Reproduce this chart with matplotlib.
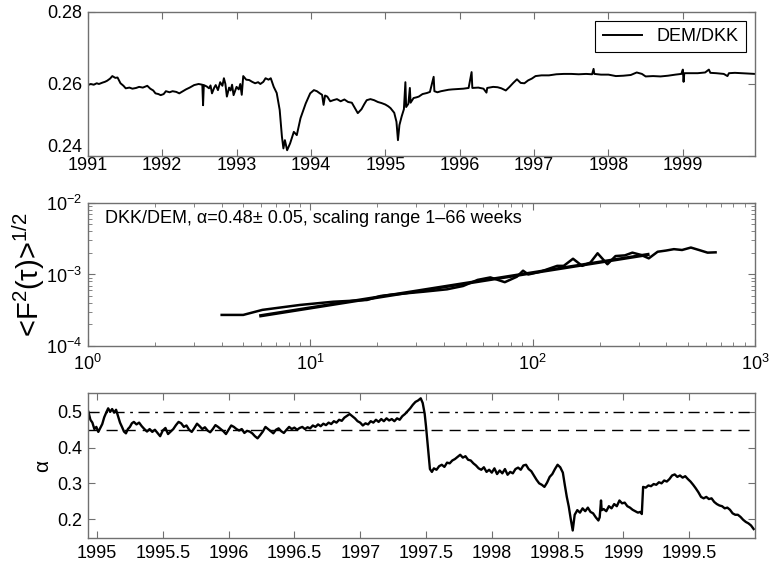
import matplotlib
matplotlib.use("Agg")
import matplotlib.pyplot as plt
from matplotlib.ticker import FormatStrFormatter

plt.rcParams['font.family'] = ['Liberation Sans', 'DejaVu Sans']
plt.rcParams['mathtext.fontset'] = 'custom'
plt.rcParams['mathtext.rm'] = 'Liberation Sans'
plt.rcParams['mathtext.it'] = 'Liberation Sans'

# --- top panel: DEM/DKK exchange rate ---
fx_year = [1991.00, 1991.04, 1991.08, 1991.12, 1991.15, 1991.20, 1991.23, 1991.26, 1991.30, 1991.33,
           1991.37, 1991.40, 1991.44, 1991.48, 1991.51, 1991.56, 1991.60, 1991.65, 1991.69, 1991.74,
           1991.80, 1991.84, 1991.88, 1991.91, 1991.95, 1991.98, 1992.02, 1992.05, 1992.10, 1992.14,
           1992.19, 1992.23, 1992.28, 1992.32, 1992.37, 1992.43, 1992.49, 1992.54, 1992.55, 1992.56,
           1992.60, 1992.63, 1992.65, 1992.67, 1992.70, 1992.72, 1992.75, 1992.78, 1992.81, 1992.83,
           1992.85, 1992.87, 1992.90, 1992.92, 1992.94, 1992.96, 1993.00, 1993.03, 1993.05, 1993.07,
           1993.09, 1993.13, 1993.17, 1993.21, 1993.25, 1993.29, 1993.32, 1993.36, 1993.39, 1993.43,
           1993.46, 1993.50, 1993.54, 1993.58, 1993.61, 1993.63, 1993.65, 1993.68, 1993.72, 1993.77,
           1993.81, 1993.86, 1993.93, 1993.99, 1994.04, 1994.08, 1994.12, 1994.15, 1994.17, 1994.19,
           1994.22, 1994.26, 1994.30, 1994.35, 1994.40, 1994.45, 1994.50, 1994.55, 1994.60, 1994.63,
           1994.68, 1994.72, 1994.75, 1994.80, 1994.85, 1994.90, 1994.95, 1995.00, 1995.04, 1995.07,
           1995.12, 1995.15, 1995.17, 1995.19, 1995.22, 1995.25, 1995.27, 1995.28, 1995.31, 1995.33,
           1995.34, 1995.38, 1995.42, 1995.45, 1995.50, 1995.56, 1995.60, 1995.65, 1995.66, 1995.70,
           1995.75, 1995.80, 1995.85, 1995.90, 1995.97, 1996.05, 1996.12, 1996.16, 1996.17, 1996.25,
           1996.32, 1996.36, 1996.37, 1996.45, 1996.51, 1996.56, 1996.62, 1996.67, 1996.72, 1996.77,
           1996.82, 1996.87, 1996.92, 1996.97, 1997.02, 1997.10, 1997.20, 1997.30, 1997.40, 1997.50,
           1997.60, 1997.70, 1997.78, 1997.80, 1997.81, 1997.90, 1998.00, 1998.10, 1998.20, 1998.30,
           1998.38, 1998.45, 1998.50, 1998.60, 1998.70, 1998.80, 1998.90, 1998.98, 1999.00, 1999.01,
           1999.02, 1999.10, 1999.20, 1999.30, 1999.35, 1999.37, 1999.45, 1999.55, 1999.60, 1999.62,
           1999.70, 1999.80, 1999.90, 1999.97]
fx_rate = [0.2597, 0.2600, 0.2598, 0.2602, 0.2600, 0.2604, 0.2606, 0.2609, 0.2615, 0.2622,
           0.2617, 0.2618, 0.2602, 0.2595, 0.2588, 0.2590, 0.2587, 0.2589, 0.2592, 0.2590,
           0.2595, 0.2587, 0.2582, 0.2574, 0.2572, 0.2569, 0.2572, 0.2580, 0.2577, 0.2580,
           0.2578, 0.2574, 0.2580, 0.2585, 0.2590, 0.2597, 0.2600, 0.2598, 0.2541, 0.2597,
           0.2593, 0.2588, 0.2596, 0.2574, 0.2590, 0.2597, 0.2583, 0.2605, 0.2595, 0.2616,
           0.2600, 0.2565, 0.2590, 0.2582, 0.2598, 0.2569, 0.2592, 0.2585, 0.2600, 0.2570,
           0.2622, 0.2612, 0.2611, 0.2606, 0.2602, 0.2605, 0.2600, 0.2606, 0.2616, 0.2612,
           0.2616, 0.2592, 0.2575, 0.2528, 0.2454, 0.2421, 0.2444, 0.2416, 0.2435, 0.2467,
           0.2458, 0.2505, 0.2546, 0.2574, 0.2583, 0.2580, 0.2574, 0.2570, 0.2542, 0.2568,
           0.2565, 0.2552, 0.2555, 0.2558, 0.2552, 0.2557, 0.2550, 0.2548, 0.2530, 0.2519,
           0.2530, 0.2545, 0.2555, 0.2558, 0.2555, 0.2550, 0.2547, 0.2543, 0.2538, 0.2533,
           0.2520, 0.2495, 0.2444, 0.2486, 0.2510, 0.2530, 0.2605, 0.2536, 0.2545, 0.2589,
           0.2548, 0.2561, 0.2563, 0.2565, 0.2572, 0.2575, 0.2578, 0.2620, 0.2580, 0.2577,
           0.2580, 0.2582, 0.2584, 0.2585, 0.2586, 0.2587, 0.2589, 0.2633, 0.2589, 0.2590,
           0.2587, 0.2576, 0.2589, 0.2592, 0.2591, 0.2588, 0.2582, 0.2592, 0.2603, 0.2613,
           0.2603, 0.2602, 0.2610, 0.2615, 0.2622, 0.2624, 0.2624, 0.2627, 0.2628, 0.2628,
           0.2627, 0.2628, 0.2627, 0.2642, 0.2628, 0.2626, 0.2626, 0.2622, 0.2623, 0.2625,
           0.2632, 0.2628, 0.2621, 0.2622, 0.2621, 0.2623, 0.2626, 0.2628, 0.2640, 0.2606,
           0.2630, 0.2630, 0.2630, 0.2632, 0.2640, 0.2631, 0.2630, 0.2628, 0.2622, 0.2630,
           0.2631, 0.2630, 0.2629, 0.2628]

# --- middle panel: DFA function ---
dfa_tau = [4.0, 5.0, 6.1, 9.0, 12.7, 18.0, 20.7, 22.9, 32.3, 41.2, 48.7, 56.6, 64.6, 75.0, 85.0,
           90.6, 95.7, 108, 129, 138, 152, 167, 182, 196, 217, 236, 260, 281, 307, 333, 365,
           398, 432, 470, 515, 560, 612, 665]
dfa_F = [2.72e-4, 2.72e-4, 3.2e-4, 3.75e-4, 4.16e-4, 4.4e-4, 5.0e-4, 5.2e-4, 5.74e-4, 6.2e-4,
         6.9e-4, 8.4e-4, 9.1e-4, 7.8e-4, 9.3e-4, 1.13e-3, 1.0e-3, 1.09e-3, 1.32e-3, 1.32e-3,
         1.66e-3, 1.32e-3, 1.47e-3, 1.98e-3, 1.39e-3, 1.81e-3, 1.85e-3, 2.02e-3, 1.88e-3,
         1.68e-3, 2.08e-3, 2.16e-3, 2.26e-3, 2.2e-3, 2.38e-3, 2.2e-3, 2.02e-3, 2.04e-3]
fit_tau = [6.0, 330.0]
fit_F = [2.65e-4, 1.9e-3]

# --- bottom panel: local alpha ---
alpha_year = [1994.935, 1994.95, 1994.965, 1994.98, 1994.995, 1995.01, 1995.025, 1995.04, 1995.055,
              1995.07, 1995.085, 1995.10, 1995.115, 1995.13, 1995.145, 1995.16, 1995.175, 1995.19,
              1995.205, 1995.22, 1995.235, 1995.25, 1995.265, 1995.28, 1995.30, 1995.32, 1995.34,
              1995.36, 1995.38, 1995.40, 1995.42, 1995.44, 1995.46, 1995.48, 1995.50, 1995.52,
              1995.54, 1995.56, 1995.58, 1995.60, 1995.62, 1995.64, 1995.66, 1995.68, 1995.70,
              1995.72, 1995.74, 1995.76, 1995.78, 1995.80, 1995.82, 1995.84, 1995.86, 1995.88,
              1995.90, 1995.92, 1995.94, 1995.96, 1995.98, 1996.00, 1996.02, 1996.04, 1996.06,
              1996.08, 1996.10, 1996.12, 1996.14, 1996.16, 1996.18, 1996.20, 1996.22, 1996.24,
              1996.26, 1996.28, 1996.30, 1996.32, 1996.34, 1996.36, 1996.38, 1996.40, 1996.42,
              1996.44, 1996.46, 1996.48, 1996.50, 1996.52, 1996.54, 1996.56, 1996.58, 1996.60,
              1996.62, 1996.64, 1996.66, 1996.68, 1996.70, 1996.72, 1996.74, 1996.76, 1996.78,
              1996.80, 1996.82, 1996.84, 1996.86, 1996.88, 1996.90, 1996.92, 1996.94, 1996.96,
              1996.98, 1997.00, 1997.02, 1997.04, 1997.06, 1997.08, 1997.10, 1997.12, 1997.14,
              1997.16, 1997.18, 1997.20, 1997.22, 1997.24, 1997.26, 1997.28, 1997.30, 1997.32,
              1997.34, 1997.36, 1997.38, 1997.40, 1997.42, 1997.44, 1997.46, 1997.475, 1997.49,
              1997.50, 1997.51, 1997.52, 1997.53, 1997.545, 1997.56, 1997.58, 1997.60, 1997.62,
              1997.64, 1997.66, 1997.68, 1997.70, 1997.72, 1997.74, 1997.76, 1997.78, 1997.80,
              1997.82, 1997.84, 1997.86, 1997.88, 1997.90, 1997.92, 1997.94, 1997.96, 1997.98,
              1998.00, 1998.02, 1998.04, 1998.06, 1998.08, 1998.10, 1998.12, 1998.14, 1998.16,
              1998.18, 1998.20, 1998.22, 1998.24, 1998.26, 1998.28, 1998.30, 1998.32, 1998.34,
              1998.36, 1998.38, 1998.40, 1998.42, 1998.44, 1998.46, 1998.48, 1998.50, 1998.52,
              1998.54, 1998.555, 1998.57, 1998.585, 1998.60, 1998.615, 1998.63, 1998.65, 1998.67,
              1998.69, 1998.71, 1998.73, 1998.75, 1998.77, 1998.79, 1998.81, 1998.82, 1998.83,
              1998.835, 1998.85, 1998.87, 1998.89, 1998.91, 1998.93, 1998.95, 1998.97, 1998.99,
              1999.01, 1999.03, 1999.05, 1999.07, 1999.09, 1999.11, 1999.13, 1999.14, 1999.15,
              1999.17, 1999.19, 1999.21, 1999.23, 1999.25, 1999.27, 1999.29, 1999.31, 1999.33,
              1999.35, 1999.37, 1999.39, 1999.41, 1999.43, 1999.45, 1999.47, 1999.49, 1999.51,
              1999.53, 1999.55, 1999.57, 1999.59, 1999.61, 1999.63, 1999.65, 1999.67, 1999.69,
              1999.71, 1999.73, 1999.75, 1999.77, 1999.79, 1999.81, 1999.83, 1999.85, 1999.87,
              1999.89, 1999.91, 1999.93, 1999.95, 1999.97, 1999.99]
alpha_val = [0.500, 0.478, 0.470, 0.452, 0.458, 0.444, 0.455, 0.466, 0.485,
             0.498, 0.510, 0.500, 0.508, 0.498, 0.506, 0.488, 0.470, 0.458,
             0.445, 0.440, 0.452, 0.458, 0.468, 0.472, 0.465, 0.470, 0.460,
             0.452, 0.445, 0.452, 0.444, 0.450, 0.441, 0.432, 0.448, 0.455,
             0.438, 0.445, 0.452, 0.463, 0.472, 0.468, 0.458, 0.462, 0.450,
             0.444, 0.455, 0.467, 0.460, 0.452, 0.457, 0.448, 0.443, 0.452,
             0.463, 0.458, 0.452, 0.446, 0.438, 0.450, 0.462, 0.458, 0.452,
             0.448, 0.452, 0.441, 0.447, 0.445, 0.440, 0.432, 0.426, 0.435,
             0.445, 0.458, 0.452, 0.446, 0.440, 0.450, 0.454, 0.446, 0.441,
             0.450, 0.458, 0.452, 0.456, 0.450, 0.455, 0.458, 0.452, 0.457,
             0.454, 0.462, 0.458, 0.465, 0.460, 0.467, 0.463, 0.470, 0.466,
             0.474, 0.470, 0.478, 0.475, 0.484, 0.489, 0.494, 0.488, 0.482,
             0.474, 0.470, 0.462, 0.468, 0.465, 0.474, 0.470, 0.478, 0.472,
             0.480, 0.474, 0.482, 0.476, 0.480, 0.474, 0.482, 0.478, 0.488,
             0.494, 0.502, 0.510, 0.520, 0.528, 0.532, 0.538, 0.525, 0.495,
             0.460, 0.420, 0.380, 0.340, 0.332, 0.342, 0.338, 0.348, 0.352,
             0.346, 0.358, 0.356, 0.364, 0.368, 0.374, 0.380, 0.372, 0.376,
             0.366, 0.364, 0.356, 0.350, 0.342, 0.338, 0.345, 0.332, 0.338,
             0.330, 0.342, 0.326, 0.336, 0.328, 0.340, 0.324, 0.332, 0.328,
             0.340, 0.344, 0.338, 0.350, 0.352, 0.340, 0.334, 0.322, 0.310,
             0.300, 0.296, 0.290, 0.302, 0.318, 0.326, 0.340, 0.352, 0.345,
             0.330, 0.295, 0.262, 0.235, 0.200, 0.168, 0.212, 0.225, 0.218,
             0.230, 0.222, 0.232, 0.220, 0.216, 0.205, 0.196, 0.205, 0.252,
             0.225, 0.228, 0.222, 0.236, 0.230, 0.242, 0.236, 0.252, 0.244,
             0.246, 0.236, 0.232, 0.226, 0.222, 0.218, 0.220, 0.214, 0.290,
             0.288, 0.294, 0.292, 0.298, 0.296, 0.303, 0.300, 0.308, 0.305,
             0.312, 0.322, 0.325, 0.318, 0.322, 0.316, 0.320, 0.312, 0.305,
             0.296, 0.286, 0.275, 0.262, 0.258, 0.262, 0.256, 0.258, 0.248,
             0.242, 0.238, 0.236, 0.230, 0.232, 0.226, 0.216, 0.212, 0.212,
             0.206, 0.198, 0.192, 0.188, 0.182, 0.172]
alpha_ref = [0.5, 0.45]

fig = plt.figure(figsize=(7.7, 5.66), dpi=100)
frame = '#707070'


def style(ax):
    for s in ax.spines.values():
        s.set_color(frame)
        s.set_linewidth(1.0)
    ax.tick_params(which='both', direction='in', top=True, right=True, color=frame,
                   labelsize=13, pad=4)
    ax.tick_params(which='major', length=5)
    ax.tick_params(which='minor', length=3)


ax1 = fig.add_axes([0.114, 0.7244, 0.8665, 0.2544])
ax1.plot(fx_year, fx_rate, color='black', lw=1.4, label='DEM/DKK')
ax1.set_xlim(1991, 1999.97)
ax1.set_ylim(0.24, 0.28)
ax1.set_xticks(range(1991, 2000))
ax1.set_yticks([0.24, 0.26, 0.28])
ax1.yaxis.set_major_formatter(FormatStrFormatter('%.2f'))
style(ax1)
ax1.tick_params(axis='x', pad=1)
ax1.yaxis.get_major_ticks()[0].label1.set_verticalalignment('bottom')
leg = ax1.legend(loc='upper right', fontsize=13, fancybox=False, framealpha=1,
                 edgecolor='black', handlelength=2.2, borderaxespad=0.5)
leg.get_frame().set_linewidth(0.8)

ax2 = fig.add_axes([0.114, 0.3887, 0.8665, 0.2527])
ax2.loglog(dfa_tau, dfa_F, color='black', lw=1.8)
ax2.loglog(fit_tau, fit_F, color='black', lw=2.4)
ax2.set_xlim(1, 1000)
ax2.set_ylim(1e-4, 1e-2)
style(ax2)
ax2.tick_params(axis='x', pad=6)
ax2.set_ylabel('<F$^2$(τ)>$^{1/2}$', fontsize=21, labelpad=-1)
ax2.text(0.026, 0.95, 'DKK/DEM, α=0.48± 0.05, scaling range 1–66 weeks',
         transform=ax2.transAxes, fontsize=13, va='top', ha='left')

ax3 = fig.add_axes([0.114, 0.0495, 0.8665, 0.2562])
ax3.plot(alpha_year, alpha_val, color='black', lw=1.7)
ax3.axhline(alpha_ref[0], color='black', lw=1.0, ls=(0, (8, 4, 2, 4)))
ax3.axhline(alpha_ref[1], color='black', lw=1.0, ls=(0, (8, 5)))
ax3.set_xlim(1994.93, 2000.0)
ax3.set_ylim(0.147, 0.553)
ax3.set_xticks([1995, 1995.5, 1996, 1996.5, 1997, 1997.5, 1998, 1998.5, 1999, 1999.5])
ax3.xaxis.set_major_formatter(FormatStrFormatter('%g'))
ax3.set_yticks([0.2, 0.3, 0.4, 0.5])
style(ax3)
ax3.tick_params(axis='x', pad=5)
ax3.set_ylabel('α', fontsize=15, labelpad=4)

fig.savefig('out.png', dpi=100)
